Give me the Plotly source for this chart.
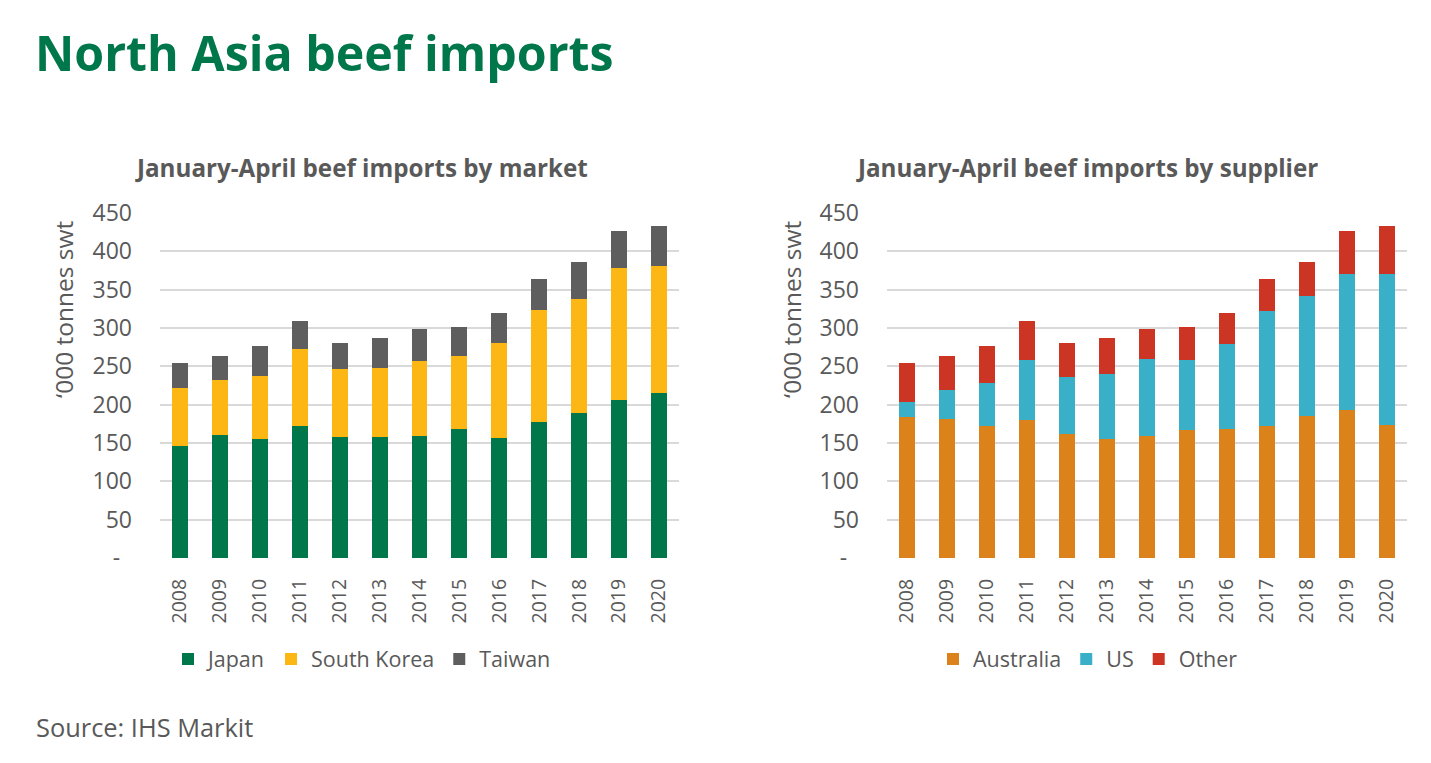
import plotly.graph_objects as go

years = [str(y) for y in range(2008, 2021)]

japan = [146, 161, 155, 172, 158, 158, 159, 168, 156.5, 177, 189, 206, 215]
south_korea = [76, 71, 82, 100.5, 88, 90, 98, 95.5, 124, 146, 149, 172, 166]
taiwan = [32, 31.5, 39.5, 36.5, 34.5, 39, 41.5, 37.5, 39.5, 41, 48, 49, 52]

australia = [184, 181.5, 172.5, 180, 162, 155.5, 159, 167, 168, 172.5, 185, 193, 173.5]
us = [19, 37.5, 55.5, 78, 74, 84.5, 100.5, 91, 111, 149.5, 157, 177.5, 197]
other = [51, 44.5, 48.5, 51, 44.5, 47, 39, 43, 41, 42, 44, 56.5, 62.5]

y_ticks = [0, 50, 100, 150, 200, 250, 300, 350, 400, 450]
y_labels = ["-\u00a0\u00a0", "50", "100", "150", "200", "250", "300", "350", "400", "450"]

GREY = "#595959"
FONT = "Open Sans"

W = 1431
H = 763
PAGE_MARGIN = 8  # the page body adds this around the plot


def px(x):
    return (x - PAGE_MARGIN) / W


def py(y):
    return (H - (y - PAGE_MARGIN)) / H


fig = go.Figure()


def add_bars(name, values, color, n):
    fig.add_trace(go.Bar(
        x=years, y=values, name=name,
        marker=dict(color=color, line=dict(width=0)),
        xaxis="x" if n == 1 else "x2",
        yaxis="y" if n == 1 else "y2",
        legend="legend" if n == 1 else "legend2",
    ))


add_bars("Japan", japan, "#00774A", 1)
add_bars("South Korea", south_korea, "#FDB714", 1)
add_bars("Taiwan", taiwan, "#5E5E5E", 1)
add_bars("Australia", australia, "#DB821B", 2)
add_bars("US", us, "#39AFC8", 2)
add_bars("Other", other, "#CC3524", 2)

xaxis = dict(
    type="category", tickangle=-90, showgrid=False, zeroline=False,
    showline=False, ticks="", automargin=False, ticklabelstandoff=16,
    tickfont=dict(family=FONT, size=19.5, color=GREY),
)
yaxis = dict(
    range=[0, 450], tickvals=y_ticks, ticktext=y_labels,
    showgrid=True, gridcolor="#D9D9D9", gridwidth=2, zeroline=False,
    showline=False, ticks="", automargin=False, ticklabelstandoff=27,
    domain=[py(558), py(213)],
    tickfont=dict(family=FONT, size=23, color=GREY),
)


def label(text, x, y, size, anchor="left", color=GREY, angle=0):
    return dict(text=text, xref="paper", yref="paper", x=px(x), y=py(y),
                xanchor=anchor, yanchor="middle", showarrow=False, textangle=angle,
                font=dict(family=FONT, size=size, color=color))


fig.update_layout(
    width=W, height=H,
    margin=dict(l=0, r=0, t=0, b=0, autoexpand=False),
    paper_bgcolor="white", plot_bgcolor="white",
    barmode="stack", bargap=0.6,
    font=dict(family=FONT, color=GREY),
    xaxis={**xaxis, "domain": [px(160), px(679)], "anchor": "y"},
    xaxis2={**xaxis, "domain": [px(887), px(1407)], "anchor": "y2"},
    yaxis={**yaxis, "anchor": "x"},
    yaxis2={**yaxis, "anchor": "x2"},
    legend=dict(
        orientation="h", traceorder="normal", x=px(362), y=py(659),
        xanchor="center", yanchor="middle",
        font=dict(family=FONT, size=21.5, color=GREY), itemwidth=30,
    ),
    legend2=dict(
        orientation="h", traceorder="normal", x=px(1088), y=py(659),
        xanchor="center", yanchor="middle",
        font=dict(family=FONT, size=21.5, color=GREY), itemwidth=30,
    ),
    annotations=[
        label("<b>North Asia beef imports</b>", 33, 52, 48.3, color="#00774A"),
        label("<b>January-April beef imports by market</b>", 361, 167, 24.2, "center"),
        label("<b>January-April beef imports by supplier</b>", 1087, 167, 24.2, "center"),
        label("‘000 tonnes swt", 63, 309, 24.5, "center", angle=-90),
        label("‘000 tonnes swt", 791, 309, 24.5, "center", angle=-90),
        label("Source: IHS Markit", 34, 727, 25.4),
    ],
)

fig.write_html("out.html")
